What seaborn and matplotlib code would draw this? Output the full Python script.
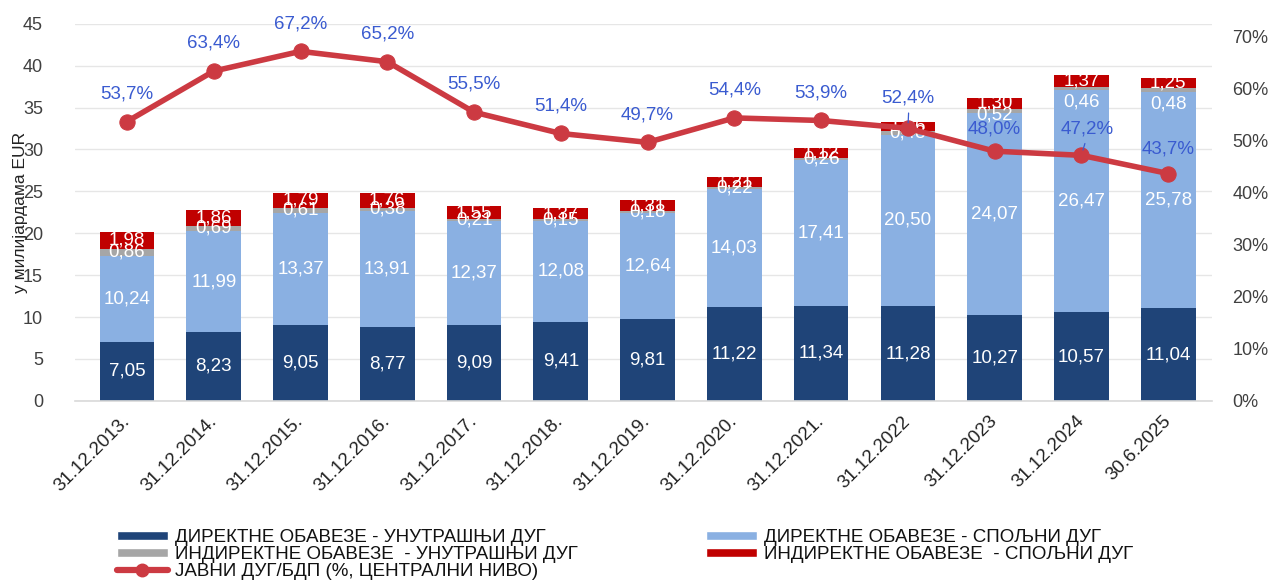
import numpy as np
import pandas as pd
import matplotlib
matplotlib.use("Agg")
import matplotlib.pyplot as plt
import seaborn as sns
from matplotlib.lines import Line2D
from matplotlib.patches import Patch

categories = ["31.12.2013.", "31.12.2014.", "31.12.2015.", "31.12.2016.", "31.12.2017.",
              "31.12.2018.", "31.12.2019.", "31.12.2020.", "31.12.2021.", "31.12.2022",
              "31.12.2023", "31.12.2024", "30.6.2025"]
direct_internal = [7.05, 8.23, 9.05, 8.77, 9.09, 9.41, 9.81, 11.22, 11.34, 11.28, 10.27, 10.57, 11.04]
direct_external = [10.24, 11.99, 13.37, 13.91, 12.37, 12.08, 12.64, 14.03, 17.41, 20.50, 24.07, 26.47, 25.78]
indirect_internal = [0.86, 0.69, 0.61, 0.38, 0.21, 0.15, 0.18, 0.22, 0.26, 0.48, 0.52, 0.46, 0.48]
indirect_external = [1.98, 1.86, 1.79, 1.76, 1.55, 1.37, 1.31, 1.21, 1.12, 1.06, 1.30, 1.37, 1.25]
debt_gdp = [53.7, 63.4, 67.2, 65.2, 55.5, 51.4, 49.7, 54.4, 53.9, 52.4, 48.0, 47.2, 43.7]

series_names = ["ДИРЕКТНЕ ОБАВЕЗЕ - УНУТРАШЊИ ДУГ", "ДИРЕКТНЕ ОБАВЕЗЕ - СПОЉНИ ДУГ",
                "ИНДИРЕКТНЕ ОБАВЕЗЕ  - УНУТРАШЊИ ДУГ", "ИНДИРЕКТНЕ ОБАВЕЗЕ  - СПОЉНИ ДУГ"]
line_name = "ЈАВНИ ДУГ/БДП (%, ЦЕНТРАЛНИ НИВО)"

colors = ["#1F4478", "#8AB0E2", "#A6A6A6", "#C00000"]
line_color = "#CC3A42"
pct_color = "#3A5BD0"

sns.set_theme(style="white")
plt.rcParams["font.family"] = ["Liberation Sans", "DejaVu Sans"]

fig = plt.figure(figsize=(12.7, 5.8), dpi=100)
ax = fig.add_axes([0.059, 0.309, 0.895, 0.650])

stack = [direct_internal, direct_external, indirect_internal, indirect_external]
cum = np.cumsum(np.array(stack), axis=0)
df = pd.DataFrame({"cat": categories})
for i in range(3, -1, -1):
    df["v"] = cum[i]
    sns.barplot(data=df, x="cat", y="v", order=categories, color=colors[i],
                saturation=1, width=0.63, ax=ax, edgecolor="none", linewidth=0)

n = len(categories)
for j in range(n):
    bottoms = [0, cum[0][j], cum[1][j], cum[2][j]]
    for i in range(4):
        val = stack[i][j]
        yc = bottoms[i] + val / 2
        dy = 0
        if i == 2 and j >= 11:
            dy = -10
        elif i == 2 and j == 10:
            dy = -3
        ax.annotate(f"{val:.2f}".replace(".", ","), (j, yc), xytext=(0, dy),
                    textcoords="offset points", ha="center", va="center",
                    color="white", fontsize=13.5)

ax.set_ylim(0, 45)
ax.set_yticks(np.arange(0, 46, 5))
ax.set_xlim(-0.6, n - 0.5)
ax.set_ylabel("у милијардама EUR", fontsize=12.5, color="#222222", labelpad=-4)
ax.set_xlabel("")
ax.tick_params(axis="y", labelsize=13, colors="#404040", length=0, pad=23)
ax.tick_params(axis="x", labelsize=13.5, colors="#222222", length=0, pad=13)
ax.set_xticks(range(n))
ax.set_xticklabels(categories, rotation=45, ha="right", va="center", rotation_mode="anchor")
ax.yaxis.grid(True, color="#E6E6E6", linewidth=1)
ax.set_axisbelow(True)
for s in ["top", "right", "left"]:
    ax.spines[s].set_visible(False)
ax.spines["bottom"].set_color("#D9D9D9")
ax.spines["bottom"].set_linewidth(1.2)

ax2 = ax.twinx()
ldf = pd.DataFrame({"pos": np.arange(n), "pct": debt_gdp})
sns.lineplot(data=ldf, x="pos", y="pct", ax=ax2, color=line_color, linewidth=4,
             marker="o", markersize=11, markeredgecolor=line_color, legend=False)
ax2.set_ylim(0, 72.5)
ax2.set_yticks(np.arange(0, 71, 10))
ax2.set_yticklabels([f"{int(t)}%" for t in np.arange(0, 71, 10)])
ax2.tick_params(axis="y", labelsize=13, colors="#404040", length=0, pad=15)
ax2.set_ylabel("")
ax2.set_xlabel("")
for s in ax2.spines.values():
    s.set_visible(False)
ax2.set_xlim(-0.6, n - 0.5)

offsets = {j: (0, 20) for j in range(n)}
offsets[9] = (0, 21.5)
offsets[10] = (0, 16)
offsets[11] = (4, 19)
offsets[12] = (0, 18)
for j in range(n):
    ox, oy = offsets[j]
    ax2.annotate(f"{debt_gdp[j]:.1f}%".replace(".", ","), (j, debt_gdp[j]),
                 xytext=(ox, oy), textcoords="offset points", ha="center",
                 va="center", color=pct_color, fontsize=13.5)
for j, (x0, y0) in {9: (0.5, 11), 11: (2.5, 8.5)}.items():
    ax2.annotate("", (j, debt_gdp[j]), xytext=(x0, y0), textcoords="offset points",
                 arrowprops=dict(arrowstyle="-", color=pct_color, lw=0.9,
                                 shrinkA=0, shrinkB=4))

leg_kw = dict(frameon=False, fontsize=13.5, handlelength=2.72, handleheight=0.4,
              handletextpad=0.37, labelspacing=0.0, borderpad=0, borderaxespad=0,
              loc="upper left")
h1 = [Patch(facecolor=colors[0]), Patch(facecolor=colors[2]),
      Line2D([], [], color=line_color, lw=4.5, marker="o", markersize=9)]
leg1 = fig.legend(h1, [series_names[0], series_names[2], line_name],
                  bbox_to_anchor=(0.092, 0.088), **leg_kw)
h2 = [Patch(facecolor=colors[1]), Patch(facecolor=colors[3])]
leg2 = fig.legend(h2, [series_names[1], series_names[3]],
                  bbox_to_anchor=(0.556, 0.088), **leg_kw)
for lg in (leg1, leg2):
    for t in lg.get_texts():
        t.set_color("#111111")

fig.savefig("out.png", dpi=100)
